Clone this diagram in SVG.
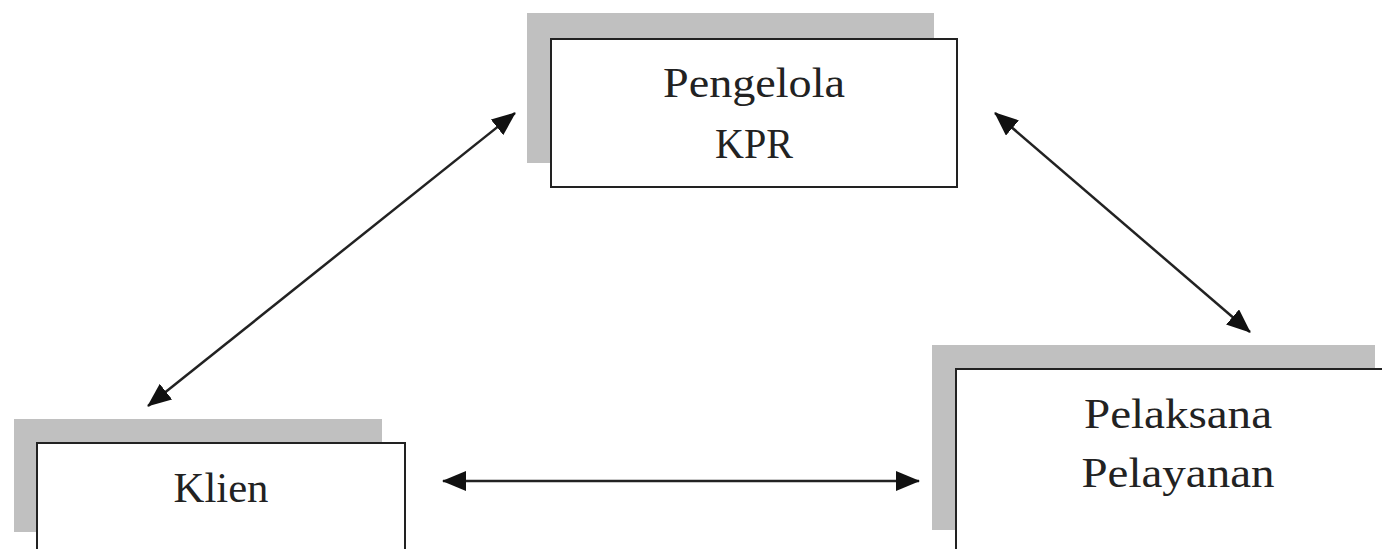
<svg xmlns="http://www.w3.org/2000/svg" width="1382" height="549" viewBox="0 0 1382 549">
<style>
.sh{fill:#c0c0c0;stroke:none}
.bx{fill:#ffffff;stroke:#222;stroke-width:2}
.t{font-family:"Liberation Serif","DejaVu Serif",serif;font-size:43px;fill:#222;text-anchor:middle}
.c{stroke:#222;stroke-width:2.5;fill:none;marker-start:url(#ah);marker-end:url(#ah)}
</style>
<defs>
<marker id="ah" markerUnits="userSpaceOnUse" viewBox="0 0 24 20" refX="23" refY="10" markerWidth="24" markerHeight="20" orient="auto-start-reverse">
<path d="M0,0 L24,10 L0,20 Z" fill="#111"/>
</marker>
</defs>
<rect width="1382" height="549" fill="#fff"/>
<g id="node-pengelola">
<rect class="sh" x="527" y="13" width="407" height="150"/>
<rect class="bx" x="551" y="39" width="406" height="148"/>
<text class="t" x="754" y="97" textLength="182" lengthAdjust="spacingAndGlyphs">Pengelola</text>
<text class="t" x="754" y="158" textLength="78" lengthAdjust="spacingAndGlyphs">KPR</text>
</g>
<g id="node-klien">
<rect class="sh" x="14" y="419" width="368" height="113"/>
<rect class="bx" x="37" y="443" width="368" height="120"/>
<text class="t" x="221" y="502" textLength="95" lengthAdjust="spacingAndGlyphs">Klien</text>
</g>
<g id="node-pelaksana">
<rect class="sh" x="932" y="345" width="443" height="185"/>
<rect class="bx" x="956" y="369" width="440" height="200"/>
<text class="t" x="1178" y="428" textLength="188" lengthAdjust="spacingAndGlyphs">Pelaksana</text>
<text class="t" x="1178" y="487" textLength="193" lengthAdjust="spacingAndGlyphs">Pelayanan</text>
</g>
<g id="connectors">
<line class="c" x1="148" y1="406" x2="515" y2="113"/>
<line class="c" x1="995" y1="113" x2="1250" y2="332"/>
<line class="c" x1="443" y1="481" x2="919" y2="481"/>
</g>
</svg>
